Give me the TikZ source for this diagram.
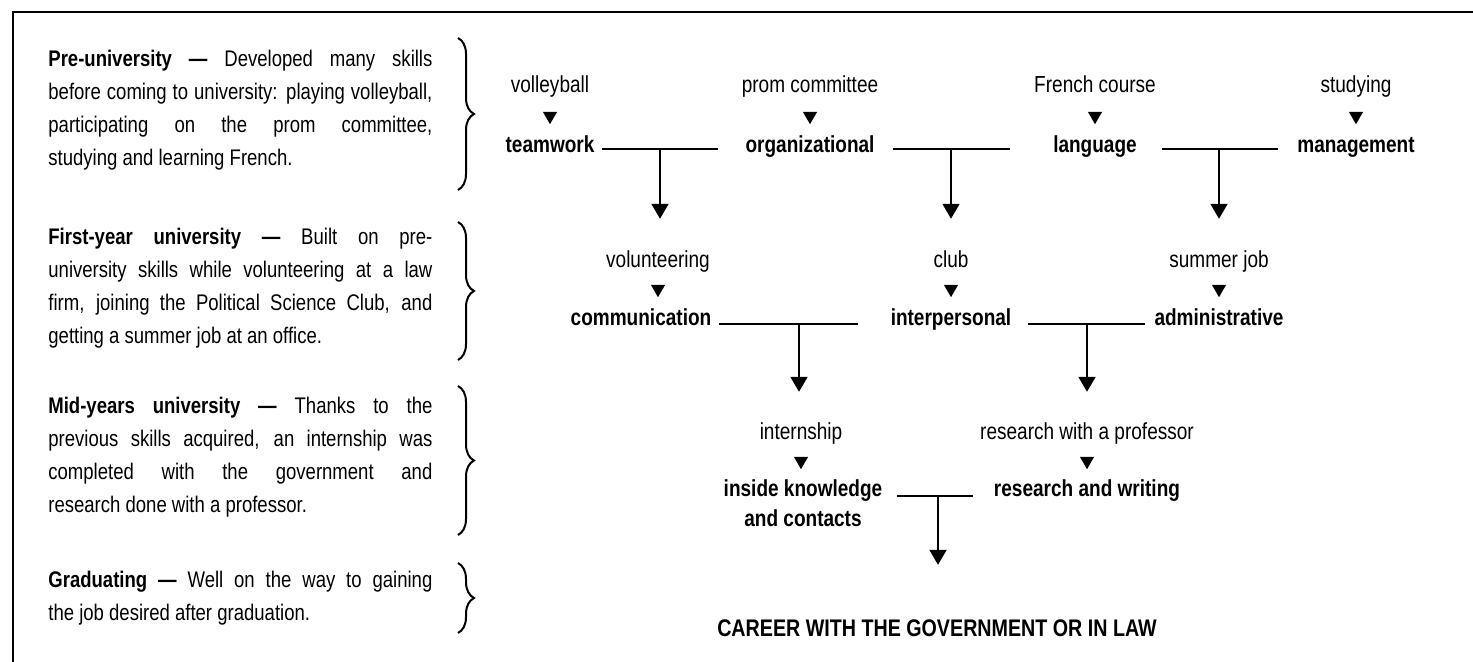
\documentclass[tikz,border=0pt]{standalone}
\usepackage{fontspec}
\setmainfont[FakeStretch=0.82]{Liberation Sans}
\usetikzlibrary{
    arrows.meta,
    decorations.pathreplacing,
    shapes.geometric
}
\tikzset{
    source/.style={anchor=base, inner sep=0pt},
    skill/.style={anchor=base, inner sep=0pt, font=\bfseries\fontsize{11.6}{14.5}\selectfont},
    pointer/.style={regular polygon, regular polygon sides=3, shape border rotate=180,
        fill, inner sep=0pt, minimum size=8.2pt},
    stage/.style={anchor=west, text width=192pt, align=justify, inner sep=0pt,
        font=\fontsize{11.3}{16.5}\selectfont},
    bracket/.style={decorate, decoration={brace, amplitude=8pt}, line width=1pt},
    link/.style={line width=1pt},
    flow/.style={line width=1pt, -{Triangle[width=8.5pt,length=7.5pt]}}
}

\begin{document}
\begin{tikzpicture}[x=0.5pt, y=-0.5pt, font=\fontsize{11.6}{14}\selectfont]
                        \useasboundingbox (0,0) rectangle (1473,662);
                        \draw[line width=1pt] (12.5,700) -- (12.5,12.5) -- (1500,12.5);
                        % stages on the left
                        \node[stage] (pre) at (48,110) {\textbf{Pre-university —} Developed many skills\linebreak before coming to university: playing volleyball,\linebreak participating on the prom committee,\linebreak studying and learning French.};
                        \node[stage] (first) at (48,288) {\textbf{First-year university —} Built on pre-\linebreak university skills while volunteering at a law\linebreak firm, joining the Political Science Club, and\linebreak getting a summer job at an office.};
                        \node[stage] (mid) at (48,457) {\textbf{Mid-years university —} Thanks to the\linebreak previous skills acquired, an internship was\linebreak completed with the government and\linebreak research done with a professor.};
                        \node[stage] (grad) at (48,598) {\textbf{Graduating —} Well on the way to gaining\linebreak the job desired after graduation.};
                        \draw[bracket] (458,38) -- (458,190);
                        \draw[bracket] (458,222) -- (458,360);
                        \draw[bracket] (458,386) -- (458,535);
                        \draw[bracket] (458,563) -- (458,633);
                        % first row
                        \node[source] (volleyball) at (550,93) {volleyball};
                        \node[source] (prom) at (810,93) {prom committee};
                        \node[source] (french) at (1095,93) {French course};
                        \node[source] (studying) at (1356,93) {studying};
                        \node[pointer] (p-volleyball) at (550,116) {};
                        \node[pointer] (p-prom) at (810,116) {};
                        \node[pointer] (p-french) at (1095,116) {};
                        \node[pointer] (p-studying) at (1356,116) {};
                        \node[skill] (teamwork) at (550,153) {teamwork};
                        \node[skill] (organizational) at (810,153) {organizational};
                        \node[skill] (language) at (1095,153) {language};
                        \node[skill] (management) at (1356,153) {management};
                        % second row
                        \node[source] (volunteering) at (658,268) {volunteering};
                        \node[source] (club) at (951,268) {club};
                        \node[source] (summer) at (1219,268) {summer job};
                        \node[pointer] (p-volunteering) at (658,289) {};
                        \node[pointer] (p-club) at (951,289) {};
                        \node[pointer] (p-summer) at (1219,289) {};
                        \node[skill] (communication) at (641,326) {communication};
                        \node[skill] (interpersonal) at (951,326) {interpersonal};
                        \node[skill] (administrative) at (1219,326) {administrative};
                        % third row
                        \node[source] (internship) at (801,440) {internship};
                        \node[source] (professor) at (1087,440) {research with a professor};
                        \node[pointer] (p-internship) at (801,461) {};
                        \node[pointer] (p-professor) at (1087,461) {};
                        \node[skill, align=center] (inside) at (803,526) {inside knowledge\\and contacts};
                        \node[skill] (writing) at (1087,497) {research and writing};
                        \node[skill, font=\bfseries\fontsize{12}{14}\selectfont] (career) at (937,636) {CAREER WITH THE GOVERNMENT OR IN LAW};
                        % joins
                        \coordinate (j-team) at (660,149);
                        \coordinate (j-org) at (951,149);
                        \coordinate (j-lang) at (1219,149);
                        \coordinate (j-comm) at (799,324);
                        \coordinate (j-inter) at (1087,324);
                        \coordinate (j-inside) at (938,496);
                        \draw[link] (j-team) +(-58,0) -- +(58,0);
                        \draw[link] (j-org) +(-58,0) -- +(59,0);
                        \draw[link] (j-lang) +(-57,0) -- +(59,0);
                        \draw[link] (j-comm) +(-80,0) -- +(59,0);
                        \draw[link] (j-inter) +(-59,0) -- +(58,0);
                        \draw[link] (j-inside) +(-41,0) -- +(35,0);
                        \draw[flow, shorten >=16pt] (j-team) -- (j-team |- volunteering.north);
                        \draw[flow, shorten >=16pt] (j-org) -- (j-org |- club.north);
                        \draw[flow, shorten >=16pt] (j-lang) -- (j-lang |- summer.north);
                        \draw[flow, shorten >=15.5pt] (j-comm) -- (j-comm |- internship.north);
                        \draw[flow, shorten >=15.5pt] (j-inter) -- (j-inter |- professor.north);
                        \draw[flow, shorten >=27pt] (j-inside) -- (j-inside |- career.north);
                    \end{tikzpicture}
\end{document}
